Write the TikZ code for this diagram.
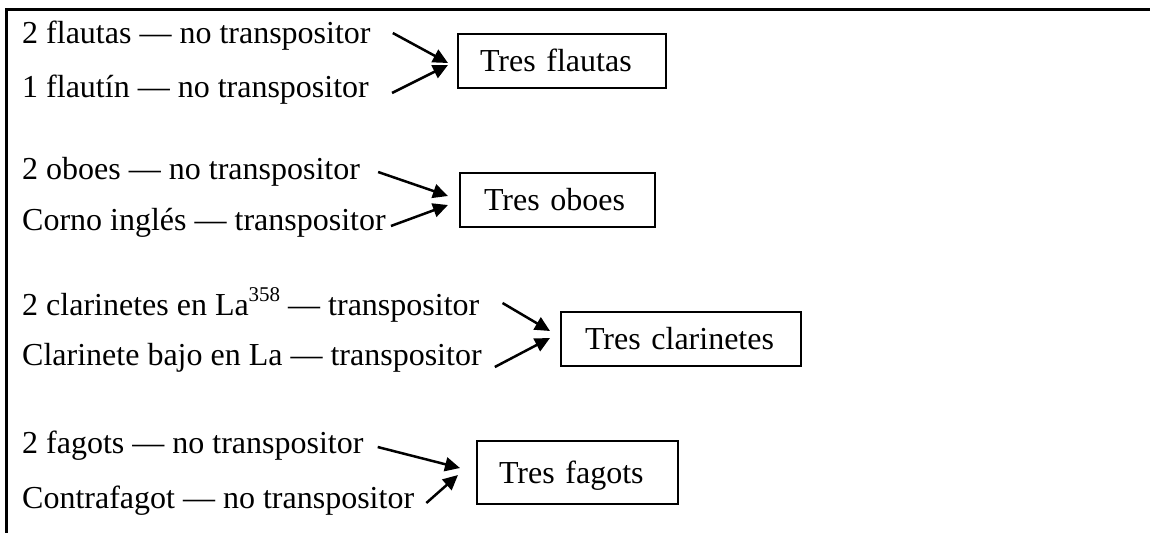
\documentclass[tikz,border=0pt]{standalone}
\usepackage{fontspec}
\setmainfont{Liberation Serif}
\usetikzlibrary{arrows.meta}
\newcommand{\supnum}[1]{\raisebox{0.42em}{\fontsize{21}{21}\selectfont #1}}
\begin{document}
\begin{tikzpicture}[x=1pt,y=-1pt,
  lbl/.style={anchor=base west, inner sep=0pt, font=\fontsize{32}{38}\selectfont},
  box/.style={draw, line width=2pt, anchor=north west, inner ysep=0pt, align=left,
    font=\fontsize{32}{38}\selectfont, text height=21pt, text depth=0pt},
  arr/.style={line width=2.5pt, -{Triangle[length=15pt,width=14pt]}},
  framestyle/.style={line width=3pt}]
\useasboundingbox (0,0) rectangle (1150,533);
\draw[framestyle] (1150,9.5) -- (6.5,9.5) -- (6.5,533);

% row 1
\node[lbl] (f1) at (22,43) {2 flautas — no transpositor};
\node[lbl] (f2) at (22,97) {1 flautín — no transpositor};
\node[box, inner xsep=22pt, text width=164pt, minimum height=54pt] (b1) at (457,33) {Tres flautas};
\draw[arr] ([shift={(22,-10)}]f1.base east) -- ([shift={(-9,2)}]b1.west);
\draw[arr] ([shift={(23,-4)}]f2.base east) -- ([shift={(-9,4)}]b1.west);

% row 2
\node[lbl] (o1) at (22,179) {2 oboes — no transpositor};
\node[lbl] (o2) at (22,230) {Corno inglés — transpositor};
\node[box, inner xsep=24pt, text width=147pt, minimum height=54pt] (b2) at (459,172) {Tres oboes};
\draw[arr] ([shift={(18,-7)}]o1.base east) -- ([shift={(-11,-4)}]b2.west);
\draw[arr] ([shift={(5,-4)}]o2.base east) -- ([shift={(-11,5)}]b2.west);

% row 3
\node[lbl] (c1) at (22,315) {2 clarinetes en La\supnum{358} — transpositor};
\node[lbl] (c2) at (22,365) {Clarinete bajo en La — transpositor};
\node[box, inner xsep=24pt, text width=192pt, minimum height=54pt] (b3) at (560,311) {Tres clarinetes};
\draw[arr] ([shift={(23,-12)}]c1.base east) -- ([shift={(-10,-8)}]b3.west);
\draw[arr] ([shift={(13,2)}]c2.base east) -- ([shift={(-10,-1)}]b3.west);

% row 4
\node[lbl] (g1) at (22,453) {2 fagots — no transpositor};
\node[lbl] (g2) at (22,508) {Contrafagot — no transpositor};
\node[box, inner xsep=22pt, text width=157pt, minimum height=63pt] (b4) at (476,440) {Tres fagots};
\draw[arr] ([shift={(14,-6)}]g1.base east) -- ([shift={(-16,-4.5)}]b4.west);
\draw[arr] ([shift={(12,-5)}]g2.base east) -- ([shift={(-18,2.5)}]b4.west);
\end{tikzpicture}
\end{document}
